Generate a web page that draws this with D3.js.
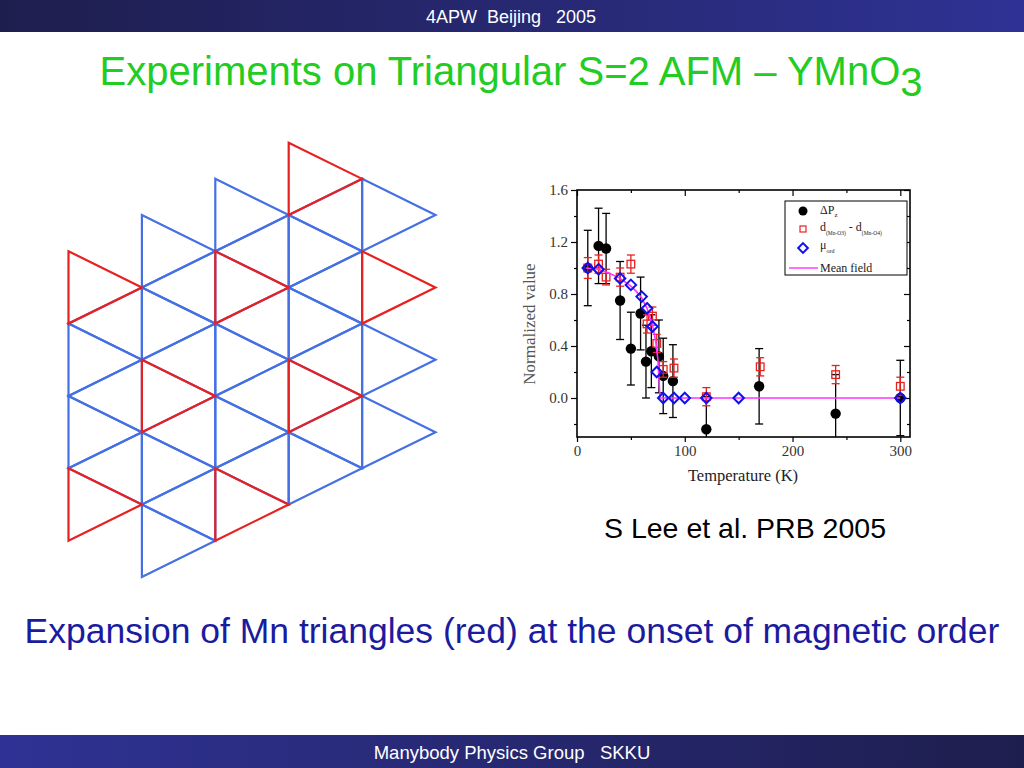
<!DOCTYPE html>
<html>
<head>
<meta charset="utf-8">
<script src="https://cdn.jsdelivr.net/npm/d3@7/dist/d3.min.js"></script>
<style>
  body { margin: 0; background: #fff; }
  svg { display: block; }
</style>
</head>
<body>
<div id="slide"></div>
<script>
// black circles: delta P_z
const tempP = [10, 20, 27, 40, 50, 59, 64, 69, 76, 80, 89, 120, 169, 240, 300];
const valP  = [1.00, 1.17, 1.15, 0.75, 0.38, 0.65, 0.28, 0.36, 0.32, 0.17, 0.13, -0.24, 0.09, -0.12, 0.00];
const errP  = [0.29, 0.29, 0.27, 0.30, 0.28, 0.28, 0.28, 0.28, 0.28, 0.29, 0.28, 0.25, 0.29, 0.30, 0.29];

// red squares: d(Mn-O3) - d(Mn-O4)
const tempD = [10, 20, 27, 40, 50, 65, 70, 74, 80, 90, 120, 170, 240, 300];
const valD  = [1.00, 1.03, 0.93, 0.93, 1.03, 0.57, 0.63, 0.42, 0.22, 0.23, 0.01, 0.24, 0.18, 0.09];
const errD  = [0.08, 0.07, 0.06, 0.07, 0.07, 0.07, 0.07, 0.07, 0.06, 0.07, 0.07, 0.07, 0.07, 0.07];

// blue diamonds: mu_ord
const tempM = [10, 20, 40, 50, 60, 65, 70, 74, 80, 90, 100, 120, 150, 300];
const valM  = [1.00, 0.99, 0.92, 0.87, 0.78, 0.69, 0.55, 0.20, 0, 0, 0, 0, 0, 0];

// mean field curve
const tempMF = [8, 20, 30, 40, 50, 55, 60, 65, 70, 73, 75, 76, 77, 300];
const valMF  = [1.00, 0.99, 0.96, 0.92, 0.86, 0.82, 0.77, 0.69, 0.56, 0.44, 0.30, 0.15, 0.0, 0.0];

const yMajor = [0, 0.4, 0.8, 1.2, 1.6];
const yMinor = [-0.2, 0.2, 0.6, 1.0, 1.4];
const xMajor = [0, 100, 200, 300];
const xMinor = [50, 150, 250];

// lattice: right-pointing triangles [column, half-row of top vertex, red?]
const rightTri = [
  [0, 3, 1], [0, 5, 0], [0, 7, 0], [0, 9, 1],
  [1, 2, 0], [1, 4, 0], [1, 6, 1], [1, 8, 0], [1, 10, 0],
  [2, 1, 0], [2, 3, 1], [2, 5, 0], [2, 7, 0], [2, 9, 1],
  [3, 0, 1], [3, 2, 0], [3, 4, 0], [3, 6, 1], [3, 8, 0],
  [4, 1, 0], [4, 3, 1], [4, 5, 0], [4, 7, 0]
];
// left-pointing triangles: [apex column, half-row of top vertex on next column]
const leftTri = [
  [0, 4], [0, 6], [0, 8],
  [1, 3], [1, 5], [1, 7], [1, 9],
  [2, 2], [2, 4], [2, 6], [2, 8],
  [3, 1], [3, 3], [3, 5], [3, 7]
];

const W = 1024, H = 768;
const svg = d3.select('#slide').append('svg')
  .attr('width', W).attr('height', H);

const defs = svg.append('defs');
const g1 = defs.append('linearGradient').attr('id', 'hdr');
g1.append('stop').attr('offset', '0%').attr('stop-color', '#1e1e4e');
g1.append('stop').attr('offset', '100%').attr('stop-color', '#2f3294');
const g2 = defs.append('linearGradient').attr('id', 'ftr');
g2.append('stop').attr('offset', '0%').attr('stop-color', '#2f3294');
g2.append('stop').attr('offset', '100%').attr('stop-color', '#1e1e4e');

svg.append('rect').attr('x', 0).attr('y', 0).attr('width', W).attr('height', 32).attr('fill', 'url(#hdr)');
svg.append('rect').attr('x', 0).attr('y', 735).attr('width', W).attr('height', 33).attr('fill', 'url(#ftr)');

const sans = "'Liberation Sans', Arial, sans-serif";
svg.append('text').attr('x', 511).attr('y', 23).attr('text-anchor', 'middle')
  .attr('font-family', sans).attr('font-size', 18).attr('fill', '#fff')
  .attr('xml:space', 'preserve').text('4APW  Beijing   2005');
svg.append('text').attr('x', 512).attr('y', 759).attr('text-anchor', 'middle')
  .attr('font-family', sans).attr('font-size', 18.5).attr('fill', '#fff')
  .attr('xml:space', 'preserve').text('Manybody Physics Group   SKKU');

// title
const title = svg.append('text').attr('x', 511).attr('y', 85).attr('text-anchor', 'middle')
  .attr('font-family', sans).attr('font-size', 40).attr('fill', '#22cc22');
title.append('tspan').text('Experiments on Triangular S=2 AFM \u2013 YMnO');
title.append('tspan').attr('dy', 11).text('3');

svg.append('text').attr('x', 745).attr('y', 538).attr('text-anchor', 'middle')
  .attr('font-family', sans).attr('font-size', 28.5).attr('fill', '#000')
  .text('S Lee et al. PRB 2005');

svg.append('text').attr('x', 512).attr('y', 643).attr('text-anchor', 'middle')
  .attr('font-family', sans).attr('font-size', 35.5).attr('fill', '#1b1ba0')
  .text('Expansion of Mn triangles (red) at the onset of magnetic order');

// ---- lattice ----
const lx = d3.scaleLinear().domain([0, 5]).range([68.5, 435.5]);
const ly = d3.scaleLinear().domain([0, 11]).range([142.7, 540.7]);
const lat = svg.append('g').attr('fill', 'none').attr('stroke-width', 2.2).attr('stroke-linejoin', 'miter');
const triPath = pts => 'M' + pts.map(p => lx(p[0]) + ',' + ly(p[1])).join('L') + 'Z';

lat.selectAll('.lt').data(leftTri).enter().append('path')
  .attr('d', d => triPath([[d[0] + 1, d[1]], [d[0] + 1, d[1] + 2], [d[0], d[1] + 1]]))
  .attr('stroke', '#4470e4');
lat.selectAll('.rb').data(rightTri.filter(d => !d[2])).enter().append('path')
  .attr('d', d => triPath([[d[0], d[1]], [d[0], d[1] + 2], [d[0] + 1, d[1] + 1]]))
  .attr('stroke', '#4470e4');
lat.selectAll('.rr').data(rightTri.filter(d => d[2])).enter().append('path')
  .attr('d', d => triPath([[d[0], d[1]], [d[0], d[1] + 2], [d[0] + 1, d[1] + 1]]))
  .attr('stroke', '#e82020');

// ---- chart ----
const pLeft = 577, pRight = 910, pTop = 190, pBottom = 437;
const x = d3.scaleLinear().domain([0, 309]).range([pLeft, pRight]);
const y = d3.scaleLinear().domain([-0.3, 1.6]).range([pBottom, pTop]);
const serif = "'Liberation Serif', 'Times New Roman', serif";

defs.append('clipPath').attr('id', 'plotclip').append('rect')
  .attr('x', pLeft).attr('y', pTop).attr('width', pRight - pLeft).attr('height', pBottom - pTop);

const ch = svg.append('g');

function axis(gen, tx, ty, vals, size, labels) {
  const a = ch.append('g').attr('transform', `translate(${tx},${ty})`)
    .call(gen.tickValues(vals).tickSize(size).tickPadding(3)
      .tickFormat(labels ? labels : () => ''));
  a.select('.domain').remove();
  a.selectAll('line').attr('stroke', '#000').attr('stroke-width', 1.2);
  a.selectAll('text').attr('font-family', serif).attr('font-size', 15).attr('fill', '#333');
  return a;
}
axis(d3.axisLeft(y), pLeft, 0, yMajor, 6, d3.format('.1f'));
axis(d3.axisLeft(y), pLeft, 0, yMinor, 3);
axis(d3.axisBottom(x), 0, pBottom, xMajor, 5, d3.format('d'));
axis(d3.axisBottom(x), 0, pBottom, xMinor, 3);
axis(d3.axisTop(x), 0, pTop, xMajor, -6);
axis(d3.axisTop(x), 0, pTop, xMinor, -3);
axis(d3.axisRight(y), pRight, 0, yMajor, -6);
axis(d3.axisRight(y), pRight, 0, yMinor, -3);

ch.append('rect').attr('x', pLeft).attr('y', pTop).attr('width', pRight - pLeft).attr('height', pBottom - pTop)
  .attr('fill', 'none').attr('stroke', '#000').attr('stroke-width', 1.6);

ch.append('text').attr('transform', `translate(535,324) rotate(-90)`)
  .attr('text-anchor', 'middle').attr('font-family', serif).attr('font-size', 17).attr('fill', '#555')
  .text('Normalized value');
ch.append('text').attr('x', 743).attr('y', 481).attr('text-anchor', 'middle')
  .attr('font-family', serif).attr('font-size', 16.5).attr('fill', '#222')
  .text('Temperature (K)');

const plot = ch.append('g').attr('clip-path', 'url(#plotclip)');

function errorBars(ts, vs, es, color, cap) {
  const gb = plot.append('g').attr('stroke', color).attr('stroke-width', 1.3);
  ts.forEach((t, i) => {
    const cx = x(t), y1 = y(vs[i] + es[i]), y2 = y(vs[i] - es[i]);
    gb.append('line').attr('x1', cx).attr('x2', cx).attr('y1', y1).attr('y2', y2);
    gb.append('line').attr('x1', cx - cap).attr('x2', cx + cap).attr('y1', y1).attr('y2', y1);
    gb.append('line').attr('x1', cx - cap).attr('x2', cx + cap).attr('y1', y2).attr('y2', y2);
  });
}

errorBars(tempP, valP, errP, '#000', 4);
plot.selectAll('.pz').data(tempP).enter().append('circle')
  .attr('cx', d => x(d)).attr('cy', (d, i) => y(valP[i])).attr('r', 5.2).attr('fill', '#000');

errorBars(tempD, valD, errD, '#e82020', 4);
plot.selectAll('.dd').data(tempD).enter().append('rect')
  .attr('x', d => x(d) - 3.8).attr('y', (d, i) => y(valD[i]) - 3.8)
  .attr('width', 7.6).attr('height', 7.6)
  .attr('fill', 'none').attr('stroke', '#e82020').attr('stroke-width', 1.3);

const line = d3.line().x((d, i) => x(tempMF[i])).y(d => y(d));
plot.append('path').datum(valMF).attr('d', line)
  .attr('fill', 'none').attr('stroke', '#ff33ff').attr('stroke-width', 1.6);

const diamond = d3.symbol().type(d3.symbolDiamond2 || d3.symbolDiamond).size(70);
plot.selectAll('.mu').data(tempM).enter().append('path')
  .attr('d', diamond)
  .attr('transform', (d, i) => `translate(${x(d)},${y(valM[i])})`)
  .attr('fill', 'none').attr('stroke', '#1010ee').attr('stroke-width', 2);

// ---- legend ----
const lg = ch.append('g');
lg.append('rect').attr('x', 785).attr('y', 201).attr('width', 122).attr('height', 74)
  .attr('fill', '#fff').attr('stroke', '#000').attr('stroke-width', 1);
lg.append('circle').attr('cx', 803).attr('cy', 211).attr('r', 4.5).attr('fill', '#000');
lg.append('rect').attr('x', 800).attr('y', 226).attr('width', 6).attr('height', 6)
  .attr('fill', 'none').attr('stroke', '#e82020').attr('stroke-width', 1.2);
lg.append('path').attr('d', d3.symbol().type(d3.symbolDiamond2 || d3.symbolDiamond).size(60))
  .attr('transform', 'translate(803,248)')
  .attr('fill', 'none').attr('stroke', '#1010ee').attr('stroke-width', 2);
lg.append('line').attr('x1', 789).attr('x2', 818).attr('y1', 268).attr('y2', 268)
  .attr('stroke', '#ff33ff').attr('stroke-width', 1.4);

const lt = (yy) => lg.append('text').attr('x', 820).attr('y', yy)
  .attr('font-family', serif).attr('font-size', 12).attr('fill', '#222');
const t1 = lt(214);
t1.append('tspan').text('\u0394P');
t1.append('tspan').attr('dy', 3).attr('font-size', 7).text('z');
const t2 = lt(231);
t2.append('tspan').text('d');
t2.append('tspan').attr('dy', 4).attr('font-size', 5.5).text('(Mn-O3)');
t2.append('tspan').attr('dy', -4).text(' - d');
t2.append('tspan').attr('dy', 4).attr('font-size', 5.5).text('(Mn-O4)');
const t3 = lt(249);
t3.append('tspan').text('\u03bc');
t3.append('tspan').attr('dy', 4).attr('font-size', 6).text('ord');
lt(272).text('Mean field');
</script>
</body>
</html>
